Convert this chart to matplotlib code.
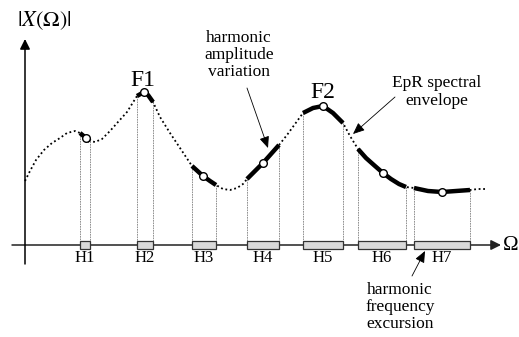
import matplotlib
matplotlib.use("Agg")
import matplotlib.pyplot as plt
import numpy as np

plt.rcParams['font.family'] = ['Liberation Serif', 'DejaVu Serif']
plt.rcParams['mathtext.fontset'] = 'stix'

# spectral envelope (picture coordinates, y grows downward)
env_x = [25, 30, 36, 44, 52, 60, 67, 75, 80, 86, 90, 95, 102, 110, 118, 127, 132, 137,
         144, 148, 153, 160, 170, 180, 188, 192, 203, 210, 216, 223, 230, 237, 243,
         247, 255, 263, 271, 279, 287, 295, 303, 313, 323, 333, 343, 350, 358, 366,
         375, 383, 391, 399, 406, 414, 428, 442, 456, 470, 478, 486]
env_y = [181, 171, 160, 150, 143, 138, 133, 131, 133, 138, 141, 142, 139, 131, 122, 112, 104, 96,
         92, 95, 102, 117, 133, 148, 160, 166, 176, 181, 185, 189, 190, 188, 184,
         179, 171, 163, 154, 145, 135, 124, 113, 108, 106, 113, 123, 136, 149, 158,
         166, 173, 179, 184, 187, 188, 191, 192, 191, 190, 189, 189]

# harmonics
harm_labels = ['H1', 'H2', 'H3', 'H4', 'H5', 'H6', 'H7']
harm_x = [86, 144, 203, 263, 323, 383, 442]
harm_lo = [80, 137, 192, 247, 303, 358, 414]
harm_hi = [90, 153, 216, 279, 343, 406, 470]

axis_y = 245
y_axis_x = 25

fig = plt.figure(figsize=(5.19, 3.37), dpi=100)
ax = fig.add_axes([0, 0, 1, 1])
ax.set_xlim(0, 519)
ax.set_ylim(337, 0)
ax.axis('off')

env = dict(zip(env_x, env_y))

# dashed guide lines from bar edges up to the envelope
edges = harm_lo + harm_hi
ax.vlines(edges, [env[e] for e in edges], axis_y, colors='#808080',
          linestyles=(0, (2, 1)), lw=0.6, zorder=1)

# dotted envelope
ax.plot(env_x, env_y, color='k', ls=(0, (1, 1.5)), lw=1.3, zorder=2)

# thick harmonic segments along the envelope
ex = np.array(env_x)
ey = np.array(env_y)
for lo, hi in zip(harm_lo, harm_hi):
    m = (ex >= lo) & (ex <= hi)
    ax.plot(ex[m], ey[m], color='k', lw=3.2, solid_capstyle='butt', zorder=3)

# harmonic peaks
ax.plot(harm_x, [env[h] for h in harm_x], 'o', ms=5.5, mfc='white', mec='k',
        mew=1.0, zorder=4)

# axes with arrows
ax.annotate('', xy=(501, axis_y), xytext=(12, axis_y),
            arrowprops=dict(arrowstyle='-|>,head_length=0.6,head_width=0.3',
                            color='#222222', lw=1.1, shrinkA=0, shrinkB=0), zorder=1)
ax.annotate('', xy=(y_axis_x, 39), xytext=(y_axis_x, 264),
            arrowprops=dict(arrowstyle='-|>,head_length=0.6,head_width=0.3',
                            color='k', lw=1.1, shrinkA=0, shrinkB=0), zorder=1)

# frequency excursion bars
ax.bar(harm_lo, 8, width=np.array(harm_hi) - np.array(harm_lo), bottom=241,
       align='edge', color='#d9d9d9', edgecolor='#333333', lw=0.9, zorder=5)
for lab, lo, hi in zip(harm_labels, harm_lo, harm_hi):
    ax.text((lo + hi) / 2, 258, lab, ha='center', va='center', fontsize=12)

ax.text(511, 245, 'Ω', ha='center', va='center', fontsize=15)
ax.text(44, 21, r'$|X(\Omega)|$', ha='center', va='center', fontsize=16)
ax.text(143, 81, 'F1', ha='center', va='center', fontsize=17)
ax.text(323, 92, 'F2', ha='center', va='center', fontsize=17)

ax.text(239, 55, 'harmonic\namplitude\nvariation', ha='center', va='center',
        fontsize=12.5, linespacing=1.1)
ax.annotate('', xy=(268, 148), xytext=(247, 88),
            arrowprops=dict(arrowstyle='-|>,head_length=0.7,head_width=0.3',
                            color='k', lw=0.6, shrinkA=0, shrinkB=0))

ax.text(437, 92, 'EpR spectral\nenvelope', ha='center', va='center',
        fontsize=12.5, linespacing=1.1)
ax.annotate('', xy=(353, 134), xytext=(395, 97),
            arrowprops=dict(arrowstyle='-|>,head_length=0.7,head_width=0.3',
                            color='k', lw=0.6, shrinkA=0, shrinkB=0))

ax.text(400, 307, 'harmonic\nfrequency\nexcursion', ha='center', va='center',
        fontsize=12.5, linespacing=1.1)
ax.annotate('', xy=(425, 251), xytext=(412, 276),
            arrowprops=dict(arrowstyle='-|>,head_length=0.7,head_width=0.3',
                            color='k', lw=0.6, shrinkA=0, shrinkB=0))

fig.savefig('out.png', dpi=100)
